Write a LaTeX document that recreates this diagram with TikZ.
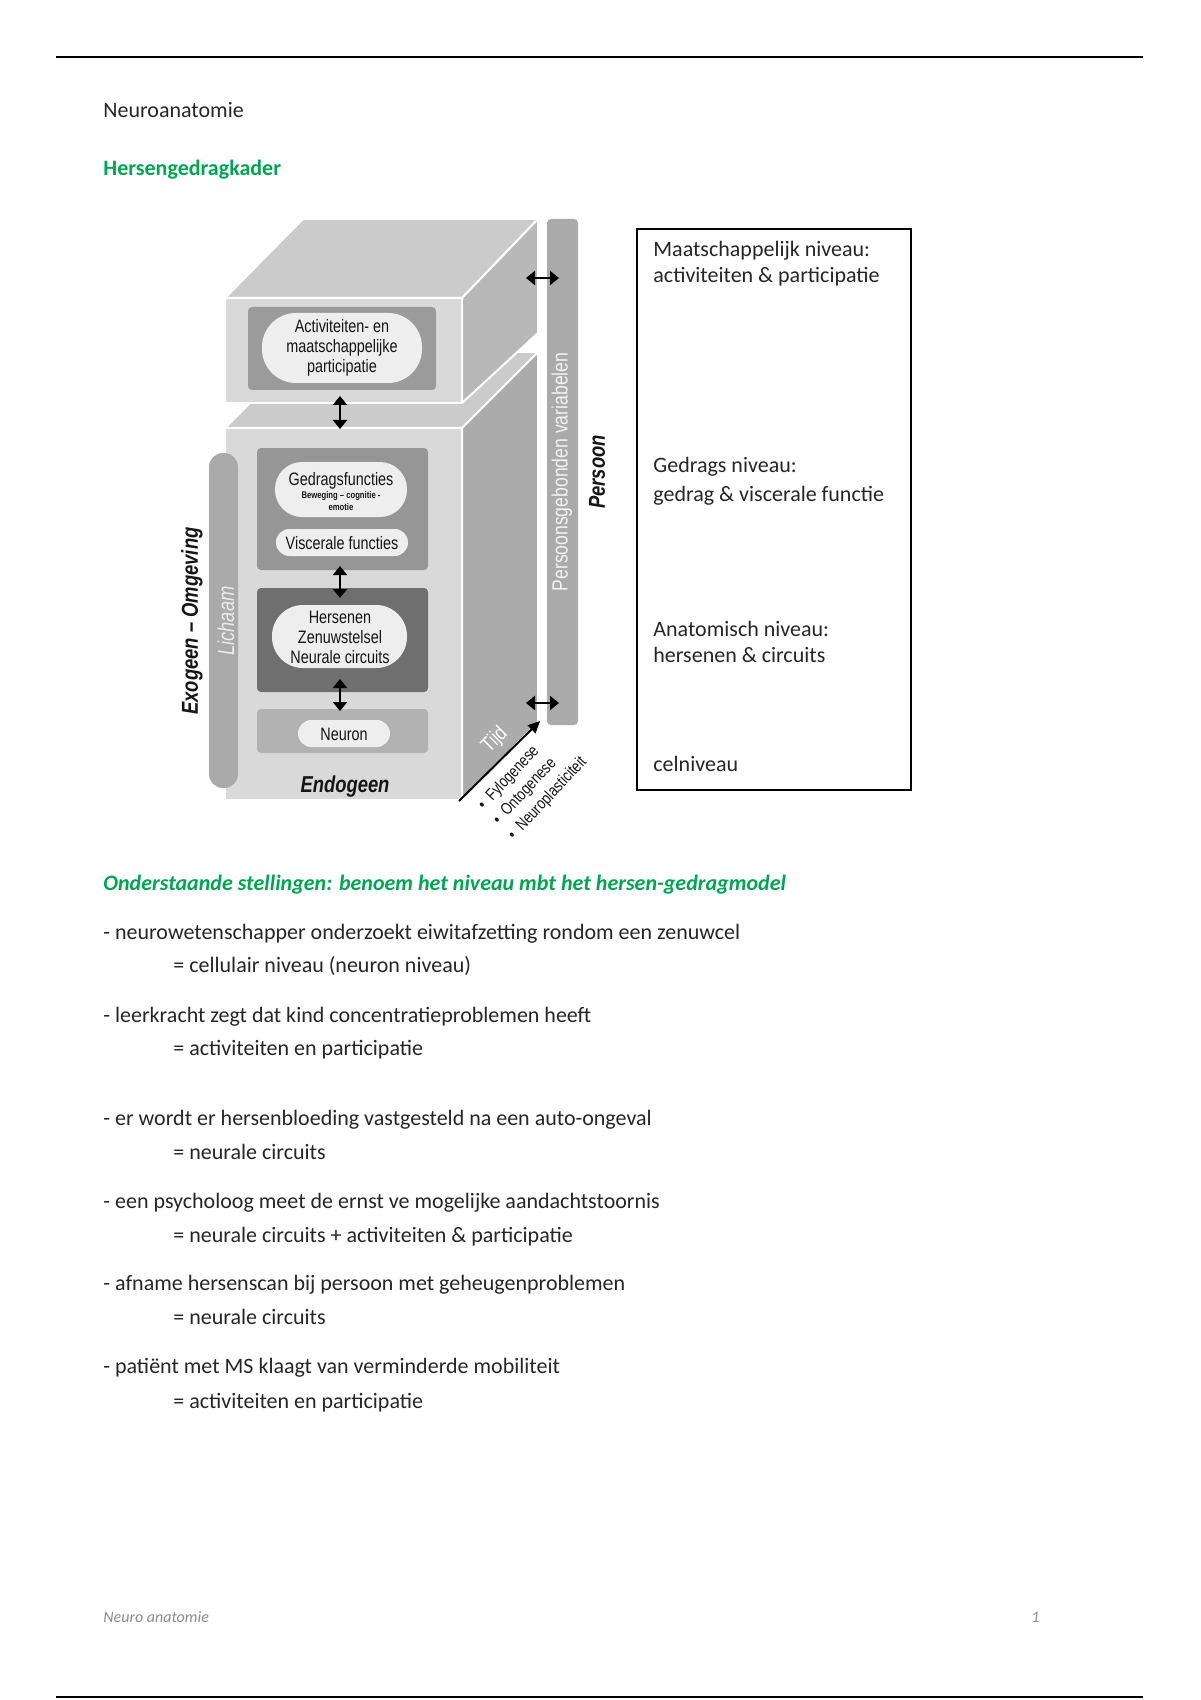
\documentclass[tikz,border=0pt]{standalone}
\usepackage{fontspec}
\setmainfont{Carlito}
\newfontfamily\narrow[FakeStretch=0.8]{Liberation Sans}
\usetikzlibrary{arrows.meta}
\definecolor{txtc}{HTML}{262626}
\definecolor{dtxt}{HTML}{151515}
\definecolor{grn}{RGB}{0,166,81}
\definecolor{topc}{HTML}{CBCBCB}
\definecolor{frontc}{HTML}{D9D9D9}
\definecolor{sidec}{HTML}{B8B8B8}
\definecolor{sidelc}{HTML}{ABABAB}
\definecolor{actc}{HTML}{9B9B9B}
\definecolor{gedc}{HTML}{969696}
\definecolor{herc}{HTML}{6F6F6F}
\definecolor{neuc}{HTML}{B2B2B2}
\definecolor{pillc}{HTML}{EEEEEE}
\definecolor{barc}{HTML}{AAAAAA}
\definecolor{foot}{HTML}{8C8C8C}
\begin{document}
\begin{tikzpicture}[x=0.5pt,y=-0.5pt,
  txt/.style={anchor=base west,inner sep=0,text=txtc,font=\fontsize{11}{13}\selectfont},
  head/.style={txt,text=grn,font=\fontsize{11}{13}\selectfont\bfseries},
  face/.style={draw=white,line width=1pt,line join=round},
  lvl/.style={rounded corners=2pt},
  pill/.style={fill=pillc},
  ptxt/.style={inner sep=0,align=center,text=dtxt,font=\narrow\fontsize{9}{10}\selectfont},
  dbl/.style={{Triangle[length=4.5pt,width=7pt]}-{Triangle[length=4.5pt,width=7pt]},line width=1.4pt},
  rtxt/.style={inner sep=0,font=\narrow\bfseries\itshape\fontsize{11.5}{13}\selectfont},
  bul/.style={inner sep=0,anchor=west,rotate=47,text=dtxt,font=\narrow\fontsize{8.3}{9}\selectfont}
]
\useasboundingbox[fill=white] (0,0) rectangle (1200,1700);
% page rules
\draw[line width=1.2pt] (56,57) -- (1143,57);
\draw[line width=1.2pt] (56,1697) -- (1143,1697);
% headings
\node[txt] (title) at (103,118) {Neuroanatomie};
\node[head] (h1) at (103,176) {Hersengedragkader};
% ---- diagram ----
% lower box
\fill[topc,face] (225,428) -- (301,352) -- (538,352) -- (462,428) -- cycle;
\fill[frontc,face] (225,428) rectangle (462,800);
\fill[sidelc,face] (462,428) -- (538,352) -- (538,722) -- (462,800) -- cycle;
% upper box
\filldraw[topc,face] (225,298) -- (303,219) -- (538,219) -- (462,298) -- cycle;
\filldraw[frontc,face] (225,298) rectangle (462,403);
\filldraw[sidec,face] (462,298) -- (538,219) -- (538,333) -- (462,403) -- cycle;
% persoon bar
\fill[barc,rounded corners=2pt] (547,219) rectangle (578,725);
% lichaam bar
\fill[barc,rounded corners=7pt] (209,453) rectangle (238,788);
% levels
\fill[actc,lvl] (248,307) rectangle (436,390);
\fill[gedc,lvl] (257,448) rectangle (428,570);
\fill[herc,lvl] (257,588) rectangle (428,692);
\fill[neuc,lvl] (257,709) rectangle (428,753);
% pills
\fill[pill,rounded corners=17pt] (262,313) rectangle (422,383);
\fill[pill,rounded corners=13.5pt] (275,462) rectangle (407,517);
\fill[pill,rounded corners=6.7pt] (276,529) rectangle (408,556);
\fill[pill,rounded corners=15.5pt] (272,605) rectangle (407,668);
\fill[pill,rounded corners=6.7pt] (298,720) rectangle (390,747);
% pill texts
\node[ptxt] (act) at (342,348) {Activiteiten- en\\maatschappelijke\\participatie};
\node[ptxt] (ged) at (341,481) {Gedragsfuncties};
\node[ptxt,font=\narrow\bfseries\fontsize{4.8}{6}\selectfont] (gedsub) at (341,501) {Beweging – cognitie -\\emotie};
\node[ptxt] (visc) at (342,543) {Viscerale functies};
\node[ptxt] (hers) at (340,637) {Hersenen\\Zenuwstelsel\\Neurale circuits};
\node[ptxt] (neur) at (344,734) {Neuron};
% vertical arrows
\coordinate (a1t) at (340,396); \coordinate (a1b) at (340,429);
\coordinate (a2t) at (340,566); \coordinate (a2b) at (340,598);
\coordinate (a3t) at (340,679); \coordinate (a3b) at (340,711);
\draw[dbl] (a1t) -- (a1b);
\draw[dbl] (a2t) -- (a2b);
\draw[dbl] (a3t) -- (a3b);
% horizontal arrows
\coordinate (h1l) at (526,278); \coordinate (h1r) at (559,278);
\coordinate (h2l) at (526,703); \coordinate (h2r) at (559,703);
\draw[dbl] (h1l) -- (h1r);
\draw[dbl] (h2l) -- (h2r);
% tijd arrow
\coordinate (tijd0) at (459,801); \coordinate (tijd1) at (540,721);
\draw[-{Triangle[length=6pt,width=5.5pt]},line width=1pt] (tijd0) -- (tijd1);
% rotated labels
\node[rtxt,rotate=90,text=dtxt] (exo) at (192,621) {Exogeen – Omgeving};
\node[rtxt,rotate=90,font=\narrow\itshape\fontsize{11.5}{13}\selectfont,text=white!92!black] (lich) at (226,621) {Lichaam};
\node[rtxt,text=dtxt] (endo) at (345,787) {Endogeen};
\node[inner sep=0,rotate=90,text=white!95!black,font=\narrow\fontsize{11}{13}\selectfont] (pgv) at (562,472) {Persoonsgebonden variabelen};
\node[rtxt,rotate=90,text=dtxt] (pers) at (597,472) {Persoon};
\node[inner sep=0,rotate=45,text=white,font=\narrow\fontsize{10.5}{12}\selectfont] (tijd) at (495,740) {Tijd};
\node[bul] (b1) at (481,808) {\textbullet\ \ Fylogenese};
\node[bul] (b2) at (496,823) {\textbullet\ \ Ontogenese};
\node[bul] (b3) at (511,838) {\textbullet\ \ Neuroplasticiteit};
% right box
\draw[line width=0.8pt] (637,229) rectangle (911,790);
\node[txt] (r1) at (653,257) {Maatschappelijk niveau:};
\node[txt] (r2) at (653,283) {activiteiten \& participatie};
\node[txt] (r3) at (653,473) {Gedrags niveau:};
\node[txt] (r4) at (653,501) {gedrag \& viscerale functie};
\node[txt] (r5) at (653,636) {Anatomisch niveau:};
\node[txt] (r6) at (653,662) {hersenen \& circuits};
\node[txt] (r7) at (653,771) {celniveau};
% statements
\node[head,font=\fontsize{11}{13}\selectfont\bfseries\itshape] (h2) at (103,890) {Onderstaande stellingen: benoem het niveau mbt het hersen-gedragmodel};
\node[txt] (s1) at (103,939) {- neurowetenschapper onderzoekt eiwitafzetting rondom een zenuwcel};
\node[txt] (a1) at (173,972) {= cellulair niveau (neuron niveau)};
\node[txt] (s2) at (103,1022) {- leerkracht zegt dat kind concentratieproblemen heeft};
\node[txt] (a2) at (173,1055) {= activiteiten en participatie};
\node[txt] (s3) at (103,1125) {- er wordt er hersenbloeding vastgesteld na een auto-ongeval};
\node[txt] (a3) at (173,1159) {= neurale circuits};
\node[txt] (s4) at (103,1208) {- een psycholoog meet de ernst ve mogelijke aandachtstoornis};
\node[txt] (a4) at (173,1242) {= neurale circuits + activiteiten \& participatie};
\node[txt] (s5) at (103,1290) {- afname hersenscan bij persoon met geheugenproblemen};
\node[txt] (a5) at (173,1324) {= neurale circuits};
\node[txt] (s6) at (103,1373) {- patiënt met MS klaagt van verminderde mobiliteit};
\node[txt] (a6) at (173,1408) {= activiteiten en participatie};
% footer
\node[txt,text=foot,font=\fontsize{8}{10}\selectfont\itshape] (f1) at (103,1622) {Neuro anatomie};
\node[txt,text=foot,font=\fontsize{8}{10}\selectfont\itshape] (f2) at (1031,1622) {1};
\end{tikzpicture}
\end{document}
